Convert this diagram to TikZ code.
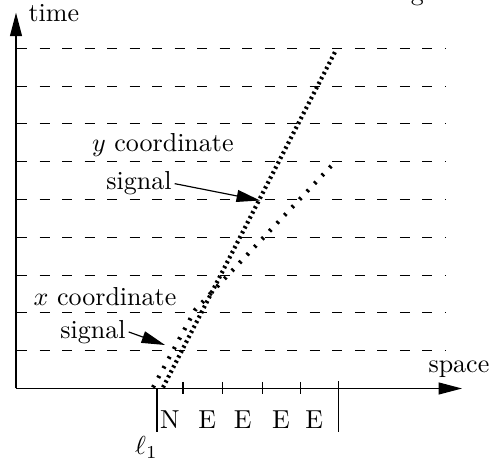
\documentclass[tikz,border=0pt]{standalone}
\usetikzlibrary{arrows.meta}
\begin{document}
\begin{tikzpicture}[x=0.3846pt,y=-0.3846pt,
  axis/.style={line width=0.45pt},
  arr/.style={-{Triangle[length=9pt,width=4.6pt]}},
  gridline/.style={line width=0.45pt, dash pattern=on 3.85pt off 4.81pt},
  densesig/.style={line width=1.6pt, dash pattern=on 0.9pt off 1.25pt},
  sparsesig/.style={line width=1.6pt, dash pattern=on 0.9pt off 3.3pt},
  lbl/.style={inner sep=0pt, anchor=base west},
  cell/.style={inner sep=0pt, anchor=base},
  ]
\useasboundingbox (0,0) rectangle (492,459);

% axes
\coordinate (O) at (16,388.5);
\coordinate (T) at (16,12.7);
\coordinate (S) at (462,388.5);
\draw[axis,arr] (O) -- (T);
\draw[axis,arr] (O) -- (S);

% dashed time lines
\foreach \y in {48.3,86.1,123.9,161.7,199.5,237.3,275.1,312.9,350.7}
  \draw[gridline] (17,\y) -- (446,\y);

% ticks on the space axis
\foreach \x in {183,222.5,262.5,300.5}
  \draw[axis] (\x,382) -- (\x,394.5);
\draw[axis] (157,388.5) -- (157,432);
\draw[axis] (338.3,381.5) -- (338.3,432);

% signals
\coordinate (d0) at (163,387.5);
\coordinate (d1) at (336,50);
\coordinate (s0) at (153,387.5);
\coordinate (sb) at (195,310);
\coordinate (s1) at (334,163);
\draw[densesig] (d0) -- (d1);
\draw[sparsesig] (s0) -- (sb) -- (s1);

% labels
\node[lbl] (time) at (28,21.7) {time};
\node[lbl] (space) at (428,372.7) {space};
\node[lbl] (ycoord) at (91.5,151.7) {$y$ coordinate};
\node[lbl, inner sep=1pt] (sigy) at (103.3,190) {signal};
\node[lbl] (xcoord) at (33,306) {$x$ coordinate};
\node[lbl, inner sep=1pt] (sigx) at (57.3,338.3) {signal};

\coordinate (ty) at (260,200.5);
\coordinate (tx) at (165,345);
\draw[axis,arr] (sigy.east) -- (ty);
\draw[axis,arr] (sigx.east) -- (tx);

\node[cell] (c1) at (170,428.3) {N};
\node[cell] (c2) at (207.3,428.3) {E};
\node[cell] (c3) at (242.7,428.3) {E};
\node[cell] (c4) at (281,428.3) {E};
\node[cell] (c5) at (314.3,428.3) {E};
\node[cell] (l1) at (146.5,455) {$\ell_1$};

\node[cell] (gfrag) at (417.5,0.3) {g};
\end{tikzpicture}
\end{document}
